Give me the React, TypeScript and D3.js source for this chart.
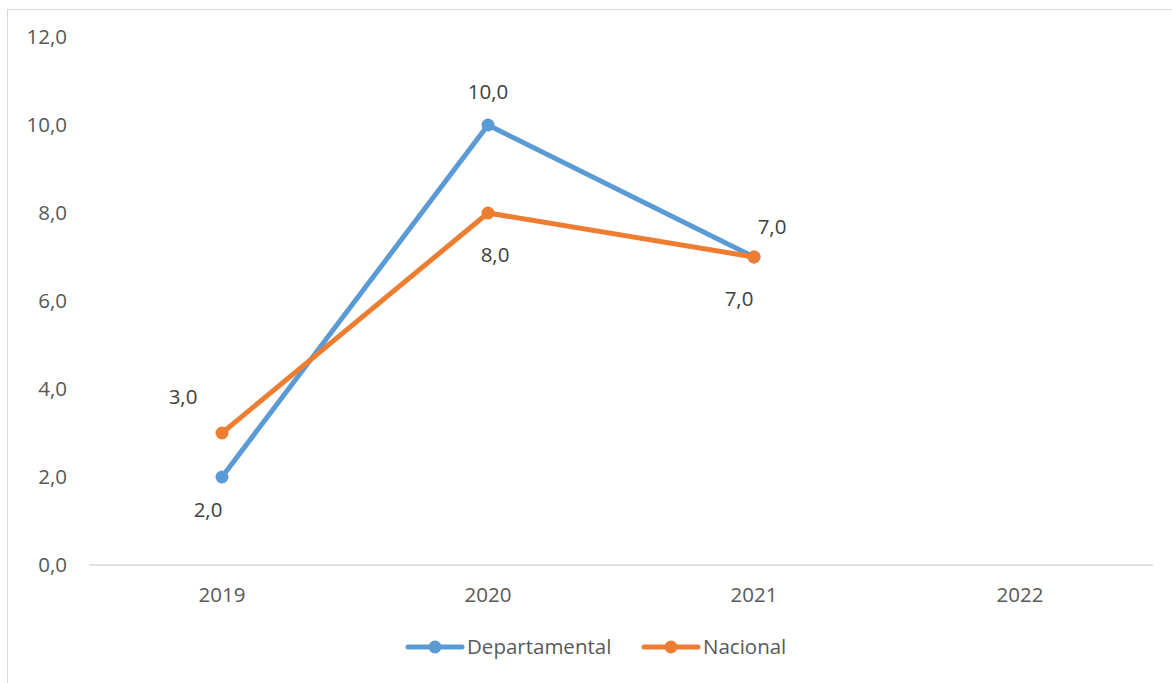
import React from "react";
import * as d3 from "d3";

const categories = ["2019", "2020", "2021", "2022"];
const departamental: (number | null)[] = [2, 10, 7, null];
const nacional: (number | null)[] = [3, 8, 7, null];
const yTicks = [0, 2, 4, 6, 8, 10, 12];
const seriesNames = ["Departamental", "Nacional"];
const colors = ["#5B9BD5", "#ED7D31"];
// label placement offsets (dx, dy) per series per point
const labelPos = [
  [[-14, 33], [0, -33], [-15, 42], [0, 0]],
  [[-39, -36], [7, 42], [18, -30], [0, 0]],
];

const W = 1172, H = 683;
const FONT = "'Open Sans', sans-serif";
const FS = 20.5;

export default function App() {
  const x = d3.scaleBand().domain(categories).range([89, 1153]);
  const y = d3.scaleLinear().domain([0, 12]).range([565, 37]);
  const cx = (c: string) => (x(c) as number) + x.bandwidth() / 2;
  const fmt = (v: number) => v.toFixed(1).replace(".", ",");
  const data = [departamental, nacional];
  const line = d3
    .line<number | null>()
    .defined((d) => d !== null)
    .x((_, i) => cx(categories[i]))
    .y((d) => y(d as number));

  const legendX = [408, 644];
  return (
    <svg width={W} height={H} style={{ position: "absolute", left: 0, top: 0 }}>
      <rect x={0} y={0} width={W} height={H} fill="#fff" />
      <rect x={7.5} y={9.5} width={1170} height={680} fill="none" stroke="#d9d9d9" strokeWidth={1} />
      <line x1={89} x2={1153} y1={y(0)} y2={y(0)} stroke="#d9d9d9" strokeWidth={1.5} />
      {yTicks.map((t) => (
        <text key={t} x={67} y={y(t)} dy="0.35em" textAnchor="end" fontSize={FS} fill="#595959" fontFamily={FONT}>
          {fmt(t)}
        </text>
      ))}
      {categories.map((c) => (
        <text key={c} x={cx(c)} y={595} dy="0.35em" textAnchor="middle" fontSize={FS} fill="#595959" fontFamily={FONT}>
          {c}
        </text>
      ))}
      {data.map((s, si) => (
        <g key={si}>
          <path d={line(s) || ""} fill="none" stroke={colors[si]} strokeWidth={5} strokeLinejoin="round" strokeLinecap="round" />
          {s.map((v, i) =>
            v === null ? null : (
              <g key={i}>
                <circle cx={cx(categories[i])} cy={y(v)} r={6.5} fill={colors[si]} />
                <text
                  x={cx(categories[i]) + labelPos[si][i][0]}
                  y={y(v) + labelPos[si][i][1]}
                  dy="0.35em"
                  textAnchor="middle"
                  fontSize={FS}
                  fill="#404040"
                  fontFamily={FONT}
                >
                  {fmt(v)}
                </text>
              </g>
            )
          )}
        </g>
      ))}
      {seriesNames.map((n, i) => (
        <g key={n}>
          <line x1={legendX[i]} x2={legendX[i] + 54} y1={647} y2={647} stroke={colors[i]} strokeWidth={5} strokeLinecap="round" />
          <circle cx={legendX[i] + 27} cy={647} r={6.5} fill={colors[i]} />
          <text x={legendX[i] + 59} y={647} dy="0.35em" fontSize={FS} fill="#595959" fontFamily={FONT}>
            {n}
          </text>
        </g>
      ))}
    </svg>
  );
}
